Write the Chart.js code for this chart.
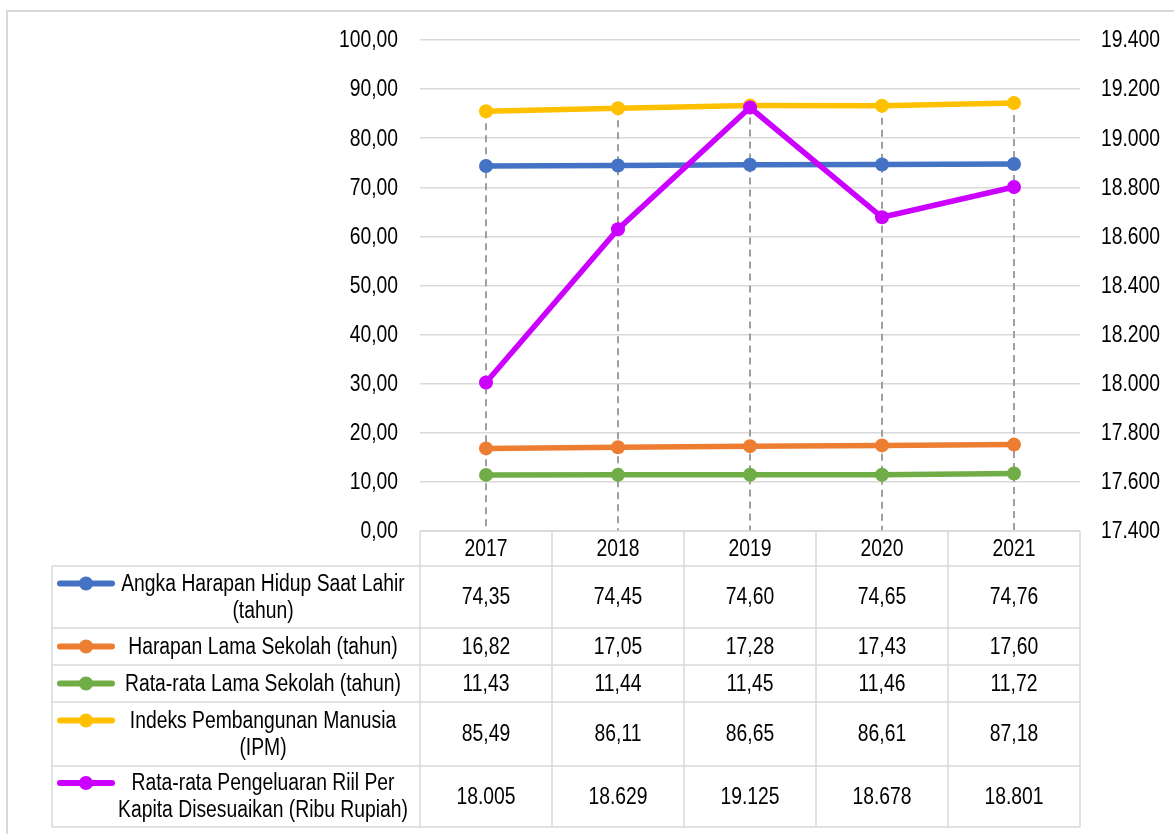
<!DOCTYPE html>
<html>
<head>
<meta charset="utf-8">
<script src="https://cdn.jsdelivr.net/npm/chart.js@4.4.0/dist/chart.umd.min.js"></script>
<style>
  html, body { margin: 0; padding: 0; background: #fff; }
</style>
</head>
<body>
<canvas id="myChart" width="1174" height="834"></canvas>
<script>
const years = ['2017', '2018', '2019', '2020', '2021'];
const ahh = [74.35, 74.45, 74.60, 74.65, 74.76];
const hls = [16.82, 17.05, 17.28, 17.43, 17.60];
const rls = [11.43, 11.44, 11.45, 11.46, 11.72];
const ipm = [85.49, 86.11, 86.65, 86.61, 87.18];
const pengeluaran = [18005, 18629, 19125, 18678, 18801];

const seriesNames = [
  ['Angka Harapan Hidup Saat Lahir', '(tahun)'],
  ['Harapan Lama Sekolah (tahun)'],
  ['Rata-rata Lama Sekolah (tahun)'],
  ['Indeks Pembangunan Manusia', '(IPM)'],
  ['Rata-rata Pengeluaran Riil Per', 'Kapita Disesuaikan (Ribu Rupiah)']
];
const colors = ['#4472C4', '#ED7D31', '#70AD47', '#FFC000', '#CC00FF'];

const FONT = '23px "Liberation Sans", Arial, sans-serif';
const SQUEEZE = 0.84; // excel uses a narrow face, squash liberation sans a bit

// indonesian number format
function fmtDec(v) {
  return v.toFixed(2).replace('.', ',');
}
function fmtThousand(v) {
  return String(Math.round(v)).replace(/\B(?=(\d{3})+(?!\d))/g, '.');
}

function narrowText(ctx, txt, x, y, align) {
  ctx.save();
  ctx.translate(x, y);
  ctx.scale(SQUEEZE, 1);
  ctx.font = FONT;
  ctx.fillStyle = '#000';
  ctx.textAlign = align;
  ctx.textBaseline = 'middle';
  ctx.fillText(txt, 0, 0);
  ctx.restore();
}

// dashed drop lines from highest point down to the axis
const dropLines = {
  id: 'dropLines',
  beforeDatasetsDraw(chart) {
    const { ctx, chartArea } = chart;
    ctx.save();
    ctx.strokeStyle = '#a0a0a0';
    ctx.lineWidth = 2;
    ctx.setLineDash([7, 5]);
    years.forEach((yr, i) => {
      let top = chartArea.bottom;
      chart.getSortedVisibleDatasetMetas().forEach(m => {
        top = Math.min(top, m.data[i].y);
      });
      const x = chart.scales.x.getPixelForValue(i);
      ctx.beginPath();
      ctx.moveTo(x, top);
      ctx.lineTo(x, chartArea.bottom);
      ctx.stroke();
    });
    ctx.restore();
  }
};

// axis labels drawn from the scales' own ticks
const axisLabels = {
  id: 'axisLabels',
  afterDraw(chart) {
    const { ctx, chartArea } = chart;
    const y = chart.scales.y, y1 = chart.scales.y1;
    y.ticks.forEach(t => {
      narrowText(ctx, fmtDec(t.value), chartArea.left - 22, y.getPixelForValue(t.value) + 1, 'right');
    });
    y1.ticks.forEach(t => {
      narrowText(ctx, fmtThousand(t.value), chartArea.right + 21, y1.getPixelForValue(t.value) + 1, 'left');
    });
  }
};

// excel style data table under the plot
const rowHeights = [62, 37, 37, 64, 61];
const dataTable = {
  id: 'dataTable',
  afterDraw(chart) {
    const { ctx, chartArea } = chart;
    const x = chart.scales.x;
    const step = x.getPixelForValue(1) - x.getPixelForValue(0);
    const left = chartArea.left, right = chartArea.right;
    const tableLeft = 52;
    const headerTop = chartArea.bottom;
    const headerH = 35;
    const allData = [ahh, hls, rls, ipm, pengeluaran];

    ctx.save();
    // outer frame
    ctx.strokeStyle = '#d9d9d9';
    ctx.lineWidth = 2;
    ctx.beginPath();
    ctx.moveTo(7, 834);
    ctx.lineTo(7, 11);
    ctx.lineTo(1174, 11);
    ctx.stroke();

    ctx.lineWidth = 1.5;
    ctx.beginPath();
    // header row
    ctx.moveTo(left, headerTop);
    ctx.lineTo(right, headerTop);
    let y = headerTop + headerH;
    const bottom = y + rowHeights.reduce((a, b) => a + b, 0);
    ctx.moveTo(tableLeft, y);
    ctx.lineTo(right, y);
    rowHeights.forEach(h => {
      y += h;
      ctx.moveTo(tableLeft, y);
      ctx.lineTo(right, y);
    });
    ctx.moveTo(tableLeft, headerTop + headerH);
    ctx.lineTo(tableLeft, bottom);
    for (let i = 0; i <= years.length; i++) {
      const cx = left + i * step;
      ctx.moveTo(cx, headerTop);
      ctx.lineTo(cx, bottom);
    }
    ctx.stroke();

    years.forEach((yr, i) => {
      narrowText(ctx, yr, x.getPixelForValue(i), headerTop + headerH / 2 + 1, 'center');
    });

    y = headerTop + headerH;
    const lineH = 27;
    rowHeights.forEach((h, r) => {
      const mid = y + h / 2;
      allData[r].forEach((v, i) => {
        const txt = r === 4 ? fmtThousand(v) : fmtDec(v);
        narrowText(ctx, txt, x.getPixelForValue(i), mid + 1, 'center');
      });
      const lines = seriesNames[r];
      const firstY = mid - (lines.length - 1) * lineH / 2;
      lines.forEach((ln, k) => {
        narrowText(ctx, ln, 263, firstY + k * lineH + 1, 'center');
      });
      // legend key
      ctx.strokeStyle = colors[r];
      ctx.lineWidth = 6;
      ctx.lineCap = 'round';
      ctx.beginPath();
      ctx.moveTo(60, firstY);
      ctx.lineTo(112, firstY);
      ctx.stroke();
      ctx.fillStyle = colors[r];
      ctx.beginPath();
      ctx.arc(86, firstY, 7, 0, Math.PI * 2);
      ctx.fill();
      y += h;
    });
    ctx.restore();
  }
};

function series(data, i, axis) {
  return {
    label: seriesNames[i].join(' '),
    data: data,
    yAxisID: axis,
    borderColor: colors[i],
    backgroundColor: colors[i],
    borderWidth: 5.5,
    pointRadius: 7,
    pointBorderWidth: 0,
    pointHoverRadius: 7,
    tension: 0,
    order: 5 - i
  };
}

new Chart(document.getElementById('myChart'), {
  type: 'line',
  data: {
    labels: years,
    datasets: [
      series(ahh, 0, 'y'),
      series(hls, 1, 'y'),
      series(rls, 2, 'y'),
      series(ipm, 3, 'y'),
      series(pengeluaran, 4, 'y1')
    ]
  },
  options: {
    responsive: false,
    animation: false,
    layout: {
      padding: { left: 0, right: 0, top: 40, bottom: 303 }
    },
    scales: {
      x: {
        display: false,
        offset: true
      },
      y: {
        position: 'left',
        min: 0,
        max: 100,
        afterFit(scale) { scale.width = 420; },
        border: { display: false },
        grid: { color: '#d9d9d9', lineWidth: 1.5, drawTicks: false },
        ticks: { stepSize: 10, display: false }
      },
      y1: {
        position: 'right',
        min: 17400,
        max: 19400,
        afterFit(scale) { scale.width = 94; },
        border: { display: false },
        grid: { display: false, drawTicks: false },
        ticks: { stepSize: 200, display: false }
      }
    },
    plugins: {
      legend: { display: false },
      tooltip: { enabled: false }
    }
  },
  plugins: [dropLines, axisLabels, dataTable]
});
</script>
</body>
</html>
